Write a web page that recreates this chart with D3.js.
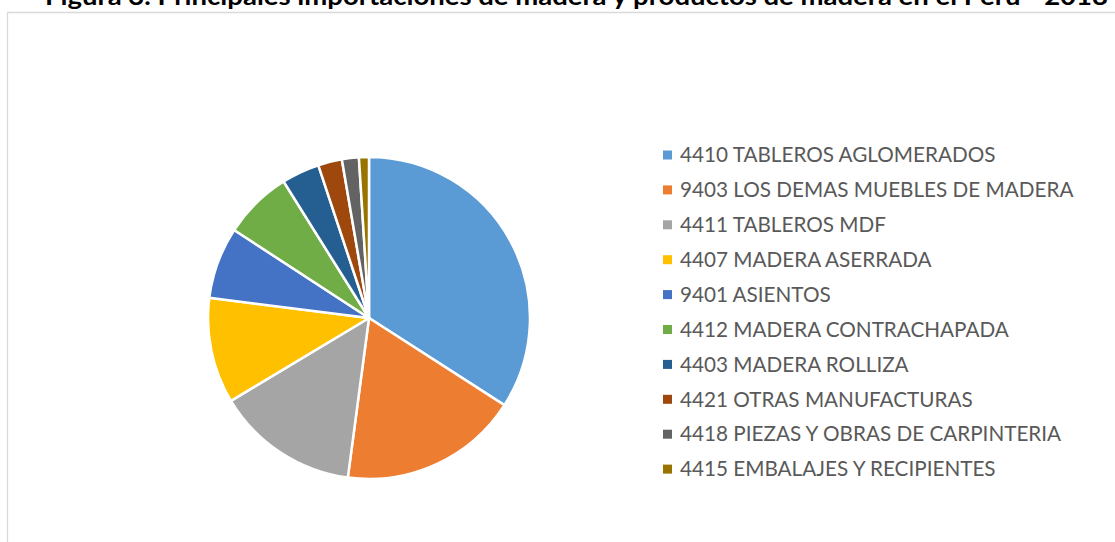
<!DOCTYPE html>
<html>
<head>
<meta charset="utf-8">
<script src="https://cdn.jsdelivr.net/npm/d3@7"></script>
<style>
    body { margin: 0; background: #fff; }
    svg { display: block; }
</style>
</head>
<body>
<svg id="SVG_CONTAINER" width="1115" height="542"></svg>
<script>
let d3 = window.d3;

// data (share of total, %)
const categories = [
    "4410 TABLEROS AGLOMERADOS",
    "9403 LOS DEMAS MUEBLES DE MADERA",
    "4411 TABLEROS MDF",
    "4407 MADERA ASERRADA",
    "9401 ASIENTOS",
    "4412 MADERA CONTRACHAPADA",
    "4403 MADERA ROLLIZA",
    "4421 OTRAS MANUFACTURAS",
    "4418 PIEZAS Y OBRAS DE CARPINTERIA",
    "4415 EMBALAJES Y RECIPIENTES"
];
const values = [34.1, 18.0, 14.3, 10.6, 7.2, 6.9, 3.8, 2.4, 1.7, 1.0];
const colors = ["#5B9BD5", "#ED7D31", "#A5A5A5", "#FFC000", "#4472C4",
                "#70AD47", "#255E91", "#9E480E", "#636363", "#997300"];
const title = "Figura 3. Principales importaciones de madera y productos de madera en el Perú - 2018";

const width = 1115,
      height = 542;

const PIE = { CX: 369, CY: 318, R: 161 };
const LEGEND = { X: 663, Y: 155, STEP: 34.9, BOX: 9 };

window.onload = function () {
    let svg = d3.select("#SVG_CONTAINER");
    draw(svg);
};

let draw = function (svg) {
    let data = categories.map((c, i) => ({ name: c, value: values[i], color: colors[i] }));

    // chart area border (top + left, the rest runs off the picture)
    svg.append("path")
        .attr("d", `M7.5,${height} V12.5 H${width}`)
        .attr("fill", "none")
        .attr("stroke", "#D9D9D9")
        .attr("stroke-width", 1.3);

    // title, cut off at the top like in the source
    svg.append("text")
        .attr("x", 45)
        .attr("y", 5)
        .attr("textLength", 1063)
        .attr("lengthAdjust", "spacingAndGlyphs")
        .style("font-family", "Lato, 'Open Sans', sans-serif")
        .style("font-weight", "bold")
        .style("font-size", "24px")
        .attr("fill", "#000")
        .text(title);

    // pie
    let pie = d3.pie()
        .value(d => d.value)
        .sort(null);

    let arc = d3.arc()
        .innerRadius(0)
        .outerRadius(PIE.R);

    svg.append("g")
        .attr("transform", `translate(${PIE.CX}, ${PIE.CY})`)
        .selectAll("path")
        .data(pie(data))
        .enter()
        .append("path")
            .attr("d", arc)
            .attr("fill", d => d.data.color)
            .attr("stroke", "#fff")
            .attr("stroke-width", 2.5)
            .attr("stroke-linejoin", "round");

    // legend
    let y = d3.scalePoint()
        .domain(categories)
        .range([LEGEND.Y, LEGEND.Y + LEGEND.STEP * (categories.length - 1)]);

    let legend = svg.append("g").attr("class", "legend");

    let item = legend.selectAll("g")
        .data(data)
        .enter()
        .append("g")
            .attr("transform", d => `translate(${LEGEND.X}, ${y(d.name)})`);

    item.append("rect")
        .attr("x", 0)
        .attr("y", -LEGEND.BOX / 2)
        .attr("width", LEGEND.BOX)
        .attr("height", LEGEND.BOX)
        .attr("fill", d => d.color);

    item.append("text")
        .attr("x", 17)
        .attr("y", 0)
        .attr("dy", "0.35em")
        .style("font-family", "Lato, 'Open Sans', sans-serif")
        .style("font-size", "20.7px")
        .attr("fill", "#595959")
        .text(d => d.name);
};
</script>
</body>
</html>
